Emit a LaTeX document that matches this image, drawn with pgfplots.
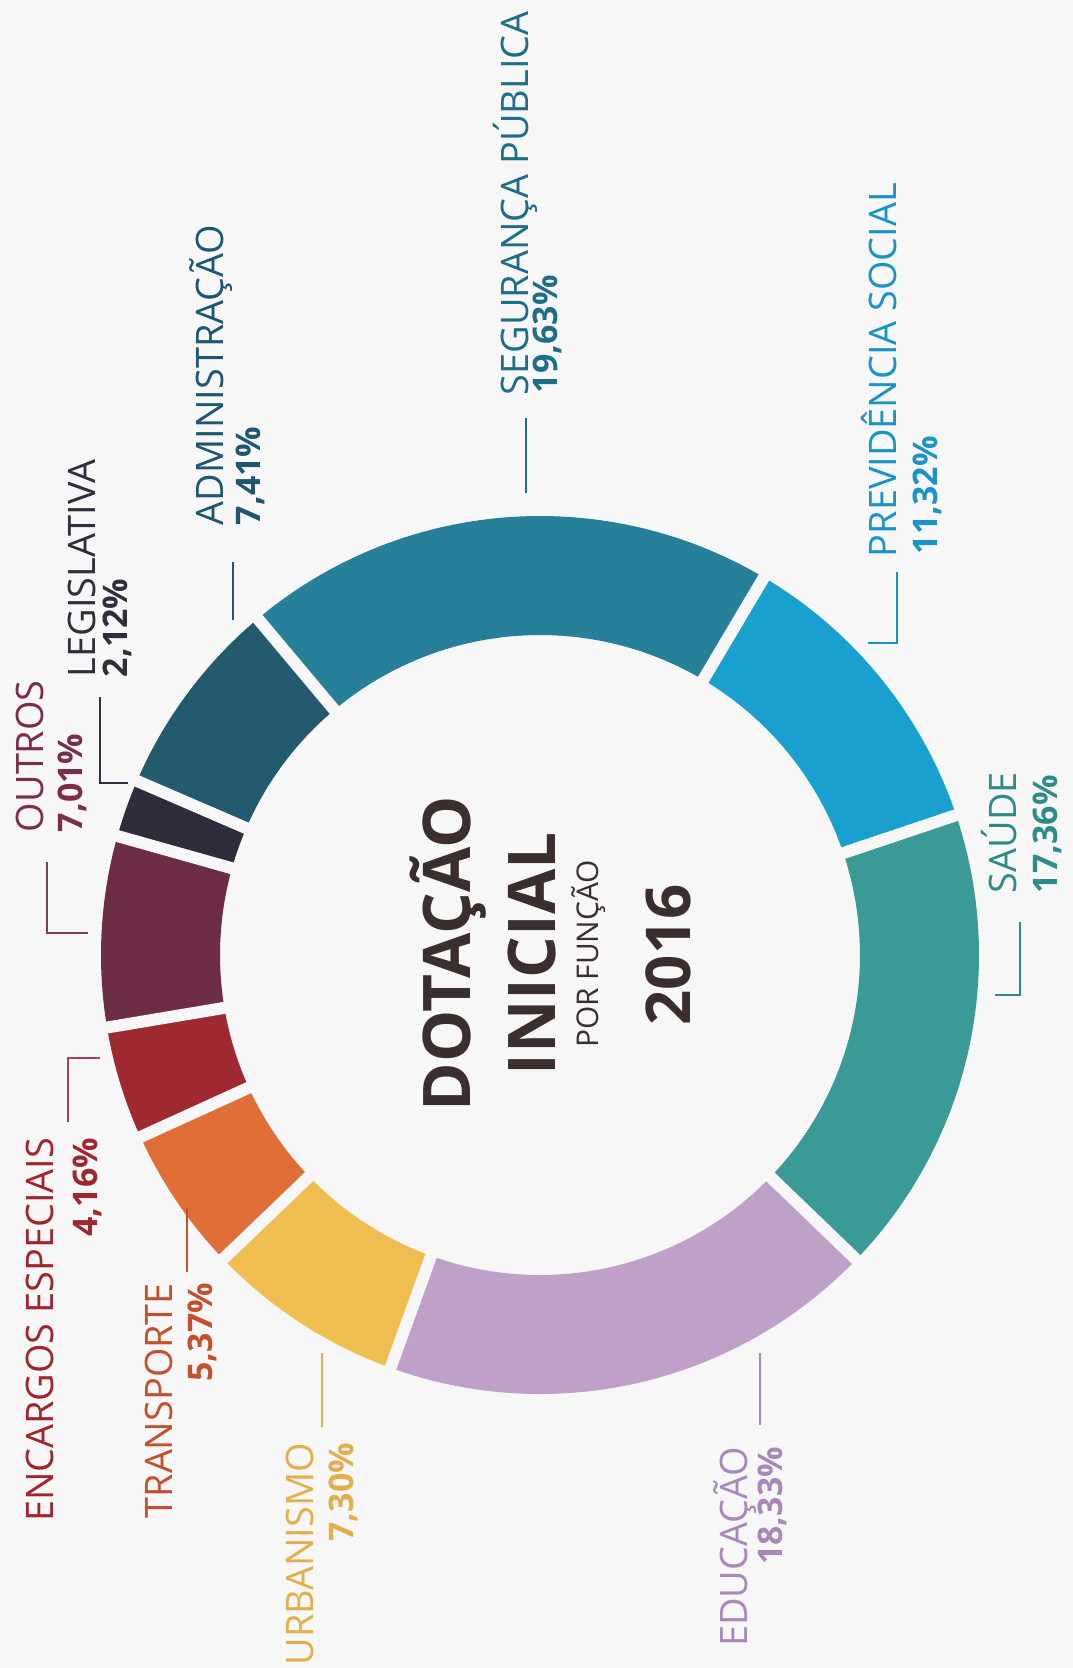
\documentclass[border=0pt]{standalone}
\usepackage{fontspec}
\setmainfont{Open Sans}
\usepackage{pgfplots}
\usepackage{pgfplotstable}
\pgfplotsset{compat=1.18}

\definecolor{bg}{HTML}{F7F7F8}
\definecolor{c0}{HTML}{26809A}
\definecolor{c1}{HTML}{19A0CF}
\definecolor{c2}{HTML}{3A9B96}
\definecolor{c3}{HTML}{BEA0C8}
\definecolor{c4}{HTML}{F0BE50}
\definecolor{c5}{HTML}{E06E37}
\definecolor{c6}{HTML}{A02830}
\definecolor{c7}{HTML}{6E2D46}
\definecolor{c8}{HTML}{2D2D3C}
\definecolor{c9}{HTML}{235A6E}
\definecolor{tSeg}{HTML}{1E6E88}
\definecolor{tPrev}{HTML}{1A93C8}
\definecolor{tSau}{HTML}{2E8C88}
\definecolor{tEdu}{HTML}{A987B8}
\definecolor{tUrb}{HTML}{E3AE4C}
\definecolor{tTra}{HTML}{C4502E}
\definecolor{tEnc}{HTML}{A0262E}
\definecolor{tOut}{HTML}{7A2E48}
\definecolor{tLeg}{HTML}{2E2E3C}
\definecolor{tAdm}{HTML}{1F5670}
\definecolor{tCen}{HTML}{3B2E2E}

% shares of the ring, in percent, clockwise from the top
\pgfplotstableread{
label pct
Seguranca 19.63
Previdencia 11.32
Saude 17.36
Educacao 18.33
Urbanismo 7.30
Transporte 5.37
Encargos 4.16
Outros 7.01
Legislativa 2.12
Administracao 7.41
}\donutdata

\pgfmathsetmacro\cur{130}
\pgfplotsforeachungrouped \i in {0,...,9}{%
  \pgfplotstablegetelem{\i}{pct}\of\donutdata
  \pgfmathsetmacro\nxt{\cur-3.6*\pgfplotsretval}%
  \expandafter\xdef\csname sA\i\endcsname{\cur}%
  \expandafter\xdef\csname sB\i\endcsname{\nxt}%
  \global\let\cur\nxt
}

\tikzset{
  nm/.style={rotate=90, inner sep=0pt, outer sep=0pt, font=\fontsize{38}{40}\selectfont},
  pc/.style={rotate=90, inner sep=0pt, outer sep=0pt, font=\bfseries\fontsize{34}{36}\selectfont},
}

\begin{document}
\begin{tikzpicture}
\useasboundingbox (0,0) rectangle (1073bp,1668bp);
\begin{axis}[x=1bp, y=1bp, xmin=0, xmax=1073, ymin=0, ymax=1668,
  y dir=reverse, hide axis, clip=false, anchor=south west, at={(0,0)}]
\addplot[fill=bg, draw=none] coordinates {(0,0) (1073,0) (1073,1668) (0,1668) (0,0)};

\pgfplotsforeachungrouped \i in {0,...,9}{%
  \edef\doplot{\noexpand\addplot[draw=c\i, line width=119bp, line cap=butt,
    domain=\csname sB\i\endcsname:\csname sA\i\endcsname, samples=80]
    ({540+379.5*cos(x)},{955-379.5*sin(x)});}%
  \doplot
}
\pgfplotsforeachungrouped \i in {0,...,9}{%
  \edef\dogap{\noexpand\addplot[draw=bg, line width=12bp, domain=300:460, samples=2]
    ({540+x*cos(\csname sA\i\endcsname)},{955-x*sin(\csname sA\i\endcsname)});}%
  \dogap
}

% leader lines
\addplot[tSeg, line width=2.5bp] coordinates {(526,418) (526,493)};
\addplot[tPrev, line width=2.5bp] coordinates {(897,572) (897,643) (868,643)};
\addplot[tSau, line width=2.5bp] coordinates {(1020,922) (1020,995) (995,995)};
\addplot[tEdu, line width=2.5bp] coordinates {(760,1353) (760,1425)};
\addplot[tUrb, line width=2.5bp] coordinates {(322,1353) (322,1427)};
\addplot[tEnc!70!tEdu, line width=2.5bp] coordinates {(68,1122) (68,1058) (100,1058)};
\addplot[tTra, line width=2.5bp] coordinates {(187,1208) (187,1272)};
\addplot[tOut!80!gray, line width=2.5bp] coordinates {(47,862) (47,933) (88,933)};
\addplot[tLeg, line width=2.5bp] coordinates {(100,697) (100,783) (128,783)};
\addplot[tAdm, line width=2.5bp] coordinates {(233,562) (233,620)};

% labels
\node[nm, text=tSeg, anchor=base west] at (axis cs:528,395) {SEGURANÇA PÚBLICA};
\node[pc, text=tSeg, anchor=base west] at (axis cs:557,393) {19,63\%};
\node[nm, text=tPrev, anchor=base west] at (axis cs:896,557) {PREVIDÊNCIA SOCIAL};
\node[pc, text=tPrev, anchor=base west] at (axis cs:937,554) {11,32\%};
\node[nm, text=tSau, anchor=base west] at (axis cs:1016,893) {SAÚDE};
\node[pc, text=tSau, anchor=base west] at (axis cs:1057,893) {17,36\%};
\node[nm, text=tEdu, anchor=base east] at (axis cs:747,1447) {EDUCAÇÃO};
\node[pc, text=tEdu, anchor=base east] at (axis cs:782,1447) {18,33\%};
\node[nm, text=tUrb, anchor=base east] at (axis cs:313,1443) {URBANISMO};
\node[pc, text=tUrb, anchor=base east] at (axis cs:353,1443) {7,30\%};
\node[nm, text=tTra, anchor=base east] at (axis cs:172,1283) {TRANSPORTE};
\node[pc, text=tTra, anchor=base east] at (axis cs:212,1283) {5,37\%};
\node[nm, text=tEnc, anchor=base east] at (axis cs:53,1138) {ENCARGOS ESPECIAIS};
\node[pc, text=tEnc, anchor=base east] at (axis cs:97,1138) {4,16\%};
\node[nm, text=tOut, anchor=base west] at (axis cs:43,832) {OUTROS};
\node[pc, text=tOut, anchor=base west] at (axis cs:82,832) {7,01\%};
\node[nm, text=tLeg, anchor=base west] at (axis cs:95,677) {LEGISLATIVA};
\node[pc, text=tLeg, anchor=base west] at (axis cs:127,677) {2,12\%};
\node[nm, text=tAdm, anchor=base west] at (axis cs:223,525) {ADMINISTRAÇÃO};
\node[pc, text=tAdm, anchor=base west] at (axis cs:260,525) {7,41\%};

% centre
\node[rotate=90, inner sep=0pt, anchor=base, text=tCen, font=\bfseries\fontsize{66}{70}\selectfont] at (axis cs:470,954) {DOTAÇÃO};
\node[rotate=90, inner sep=0pt, anchor=base, text=tCen, font=\bfseries\fontsize{66}{70}\selectfont] at (axis cs:555,954) {INICIAL};
\node[rotate=90, inner sep=0pt, anchor=base, text=tCen, font=\fontsize{30}{32}\selectfont] at (axis cs:598,954) {POR FUNÇÃO};
\node[rotate=90, inner sep=0pt, anchor=base, text=tCen, font=\bfseries\fontsize{62}{66}\selectfont] at (axis cs:690,955) {2016};
\end{axis}
\end{tikzpicture}
\end{document}
